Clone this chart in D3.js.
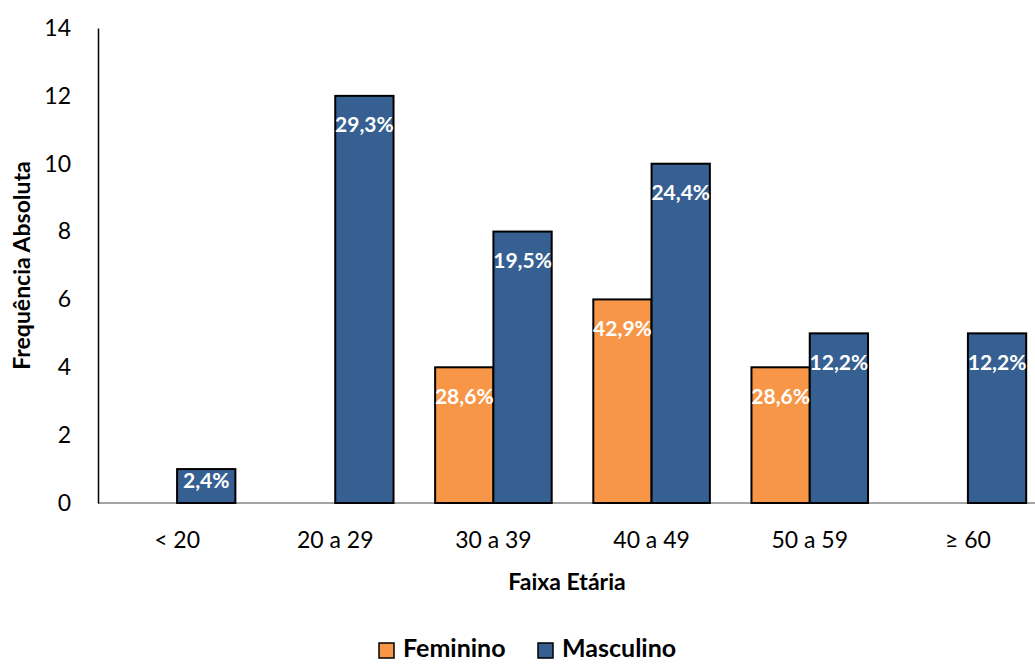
<!DOCTYPE html>
<html>
<head>
<meta charset="utf-8">
<script src="https://cdn.jsdelivr.net/npm/d3@7"></script>
<style>
  html, body { margin: 0; padding: 0; background: #fff; overflow: hidden; }
  svg { display: block; font-family: Lato, "Open Sans", sans-serif; }
</style>
</head>
<body>
<svg id="chart" width="1035" height="664"></svg>
<script>
// Age-group distribution by sex
const categories = ["< 20", "20 a 29", "30 a 39", "40 a 49", "50 a 59", "\u2265 60"];
const seriesNames = ["Feminino", "Masculino"];
const feminino = [0, 0, 4, 6, 4, 0];
const masculino = [1, 12, 8, 10, 5, 5];
const femininoLabels = ["", "", "28,6%", "42,9%", "28,6%", ""];
const masculinoLabels = ["2,4%", "29,3%", "19,5%", "24,4%", "12,2%", "12,2%"];
const yTicks = [0, 2, 4, 6, 8, 10, 12, 14];

const colors = { Feminino: "#F79646", Masculino: "#366092" };
const FONT = "Lato, 'Open Sans', sans-serif";

const svg = d3.select("#chart");

const plot = { left: 98, right: 1047, top: 28, bottom: 503 };

const x0 = d3.scaleBand()
  .domain(categories)
  .range([plot.left, plot.right])
  .paddingInner(0.263)
  .paddingOuter(0.1315);

const x1 = d3.scaleBand()
  .domain(seriesNames)
  .range([0, x0.bandwidth()]);

const y = d3.scaleLinear().domain([0, 14]).range([plot.bottom, plot.top]);

const rows = categories.map((c, i) => ({
  cat: c,
  values: [
    { key: "Feminino", value: feminino[i], label: femininoLabels[i] },
    { key: "Masculino", value: masculino[i], label: masculinoLabels[i] }
  ]
}));

// x axis baseline
svg.append("line")
  .attr("x1", plot.left).attr("x2", 1035)
  .attr("y1", y(0)).attr("y2", y(0))
  .attr("stroke", "#868686").attr("stroke-width", 1.5);

// y axis
const yAxis = d3.axisLeft(y).tickValues(yTicks).tickSize(0).tickPadding(27);
const gy = svg.append("g").attr("transform", `translate(${plot.left},0)`).call(yAxis);
gy.select(".domain").attr("stroke", "#000").attr("stroke-width", 1.5);
gy.selectAll("text").attr("font-size", 23).attr("fill", "#000").attr("font-family", FONT);

// bars
const groups = svg.append("g").selectAll("g")
  .data(rows).join("g")
  .attr("transform", d => `translate(${x0(d.cat)},0)`);

groups.selectAll("rect")
  .data(d => d.values.filter(v => v.value > 0))
  .join("rect")
  .attr("x", d => x1(d.key))
  .attr("width", x1.bandwidth())
  .attr("y", d => y(d.value))
  .attr("height", d => y(0) - y(d.value))
  .attr("fill", d => colors[d.key])
  .attr("stroke", "#000")
  .attr("stroke-width", 2);

// value labels inside the bar ends
groups.selectAll("text.val")
  .data(d => d.values.filter(v => v.value > 0 && v.label))
  .join("text")
  .attr("class", "val")
  .attr("x", d => x1(d.key) + x1.bandwidth() / 2)
  .attr("y", d => Math.min(y(d.value) + 29, (y(d.value) + y(0)) / 2 - 5))
  .attr("dy", "0.35em")
  .attr("text-anchor", "middle")
  .attr("font-size", 21)
  .attr("font-weight", "bold")
  .attr("fill", "#fff")
  .text(d => d.label);

// category labels
const xAxis = d3.axisBottom(x0).tickSize(0).tickPadding(29);
const gx = svg.append("g").attr("transform", `translate(0,${plot.bottom})`).call(xAxis);
gx.select(".domain").remove();
gx.selectAll("text").attr("font-size", 23).attr("fill", "#000").attr("font-family", FONT);

// axis titles
svg.append("text")
  .attr("x", 567)
  .attr("y", 590)
  .attr("text-anchor", "middle")
  .attr("font-size", 23).attr("font-weight", "bold")
  .text("Faixa Etária");

svg.append("text")
  .attr("transform", `translate(30,${(plot.top + plot.bottom) / 2}) rotate(-90)`)
  .attr("text-anchor", "middle")
  .attr("font-size", 23).attr("font-weight", "bold")
  .text("Frequência Absoluta");

// legend
const legend = svg.append("g").attr("transform", "translate(379,657)");
const legendPos = [0, 159];
seriesNames.forEach((name, i) => {
  const g = legend.append("g").attr("transform", `translate(${legendPos[i]},0)`);
  g.append("rect")
    .attr("x", 0).attr("y", -14)
    .attr("width", 15).attr("height", 15)
    .attr("fill", colors[name]).attr("stroke", "#000").attr("stroke-width", 1.5);
  g.append("text")
    .attr("x", 24).attr("y", 0)
    .attr("font-size", 25).attr("font-weight", "bold")
    .text(name);
});
</script>
</body>
</html>
